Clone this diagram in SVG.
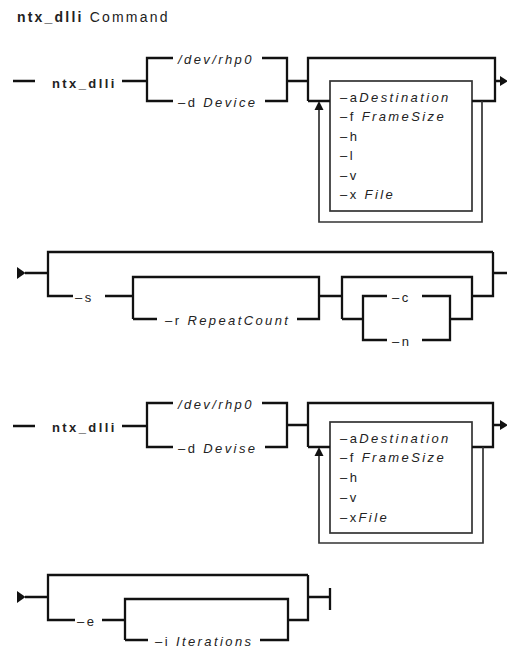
<svg xmlns="http://www.w3.org/2000/svg" width="507" height="648" viewBox="0 0 507 648">
<style>
  text { font-family: "Liberation Sans", Arial, sans-serif; font-size: 13px; fill: #222; letter-spacing: 2.4px; }
  .t { font-size: 14px; letter-spacing: 2.2px; }
  .b { font-weight: bold; }
  .i { font-style: italic; }
  .rail { fill: none; stroke: #111; stroke-width: 2.3; }
  .box { fill: none; stroke: #333; stroke-width: 1.7; }
  .arr { fill: #111; stroke: none; }
</style>
<rect width="507" height="648" fill="#fff"/>

<g id="title">
  <text class="t" x="17" y="22"><tspan class="b">ntx_dlli</tspan> Command</text>
</g>

<!-- Section 1 -->
<g id="s1-cmd"><text class="b" x="52" y="88">ntx_dlli</text></g>
<g id="s1-dev"><text class="i" x="178" y="64">/dev/rhp0</text></g>
<g id="s1-d"><text x="178" y="107">–d <tspan class="i">Device</tspan></text></g>
<g id="s1-opts">
  <rect class="box" x="330" y="81" width="142" height="130"/>
  <text x="340" y="102">–a<tspan class="i">Destination</tspan></text>
  <text x="340" y="121">–f <tspan class="i">FrameSize</tspan></text>
  <text x="340" y="141">–h</text>
  <text x="340" y="160">–l</text>
  <text x="340" y="180">–v</text>
  <text x="340" y="199">–x <tspan class="i">File</tspan></text>
</g>

<!-- Section 2 -->
<g id="s2-s"><text x="75" y="302">–s</text></g>
<g id="s2-r"><text x="165" y="325">–r <tspan class="i">RepeatCount</tspan></text></g>
<g id="s2-c"><text x="392" y="302">–c</text></g>
<g id="s2-n"><text x="392" y="346">–n</text></g>

<!-- Section 3 -->
<g id="s3-cmd"><text class="b" x="52" y="432">ntx_dlli</text></g>
<g id="s3-dev"><text class="i" x="178" y="409">/dev/rhp0</text></g>
<g id="s3-d"><text x="178" y="453">–d <tspan class="i">Devise</tspan></text></g>
<g id="s3-opts">
  <rect class="box" x="330" y="422" width="142" height="111"/>
  <text x="340" y="443">–a<tspan class="i">Destination</tspan></text>
  <text x="340" y="462">–f <tspan class="i">FrameSize</tspan></text>
  <text x="340" y="482">–h</text>
  <text x="340" y="502">–v</text>
  <text x="340" y="522">–x<tspan class="i">File</tspan></text>
</g>

<!-- Section 4 -->
<g id="s4-e"><text x="77" y="626">–e</text></g>
<g id="s4-i"><text x="155" y="646">–i <tspan class="i">Iterations</tspan></text></g>

<g id="connectors">
  <!-- section 1 -->
  <path class="rail" d="M13,81 H35 M122,81 H147 M173,58 H147 V101 H173 M262,58 H287 V101 H265 M287,81 H308 M308,101 V58 H495 V101 H472 M308,101 H330 M495,81 H501"/>
  <path class="box" d="M482,101 V222 H319 V110"/>
  <polygon class="arr" points="319,101 323.5,110 314.5,110"/>
  <polygon class="arr" points="500,76 508,81 500,86"/>

  <!-- section 2 -->
  <polygon class="arr" points="17,267 25.5,273 17,279"/>
  <path class="rail" d="M25,273 H48 M493,252 H48 V296 H73 M105,296 H133 M133,319 V277 H319 V319 H297 M133,319 H157 M319,296 H342 M342,319 V277 H472 V319 H450 M342,319 H363 M387,296 H363 V340 H387 M422,296 H450 V340 H422 M472,296 H493 V252 M493,273 H507"/>

  <!-- section 3 -->
  <path class="rail" d="M13,426 H35 M122,426 H147 M173,403 H147 V447 H173 M262,403 H287 V447 H265 M287,425 H308 M308,447 V403 H493 V447 H472 M308,447 H330 M493,425 H501"/>
  <path class="box" d="M483,447 V543 H319 V456"/>
  <polygon class="arr" points="319,447 323.5,456 314.5,456"/>
  <polygon class="arr" points="500,420 508,425 500,430"/>

  <!-- section 4 -->
  <polygon class="arr" points="17,591 25.5,597 17,603"/>
  <path class="rail" d="M25,597 H48 M308,575 H48 V620 H75 M102,620 H125 M125,640 V599 H288 V640 H260 M125,640 H148 M288,620 H308 V575 M308,597 H330 M330,588 V610"/>
</g>
</svg>
